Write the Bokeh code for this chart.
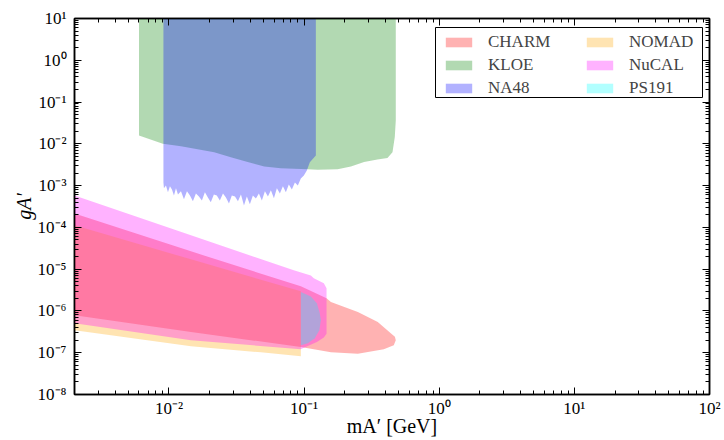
from bokeh.plotting import figure
from bokeh.models import (LogAxis, FixedTicker, CustomJSTickFormatter, Legend,
                          LegendItem, Range1d, BoxAnnotation)
from bokeh.embed import file_html
from bokeh.resources import INLINE

# ---------------- data (mass in GeV, coupling g_A') ----------------
charm_m = [2e-3, 1.455e-2, 9.46e-2, 0.1466, 0.158, 0.25, 0.351, 0.438, 0.47, 0.477,
           0.461, 0.389, 0.25, 0.158, 9.46e-2, 1.455e-2, 2e-3]
charm_g = [2.16e-4, 2.67e-5, 3.88e-6, 2.0e-6, 1.63e-6, 9.4e-7, 5.42e-7, 2.91e-7, 2.4e-7, 1.98e-7,
           1.5e-7, 1.21e-7, 9.5e-8, 1.02e-7, 1.37e-7, 3.13e-7, 7.85e-7]

kloe_m = [6.0e-3, 6.0e-3, 9.0e-3, 1.227e-2, 2.16e-2, 2.87e-2, 3.82e-2, 5.07e-2, 6.7e-2, 0.106,
          0.126, 0.177, 0.222, 0.278, 0.349, 0.414, 0.451, 0.469, 0.477, 0.477]
kloe_g = [20, 1.59e-2, 1.0e-2, 8.7e-3, 6.3e-3, 4.8e-3, 3.65e-3, 2.88e-3, 2.6e-3, 2.48e-3,
          2.4e-3, 2.48e-3, 2.88e-3, 3.65e-3, 4.24e-3, 4.55e-3, 6.3e-3, 1.45e-2, 3.63e-2, 20]

na48_m = [9.1e-3, 9.1e-3, 9.18e-3, 9.5e-3, 9.83e-3, 1.017e-2, 1.052e-2, 1.089e-2, 1.127e-2,
          1.166e-2, 1.227e-2, 1.291e-2, 1.359e-2, 1.43e-2, 1.504e-2, 1.583e-2, 1.666e-2,
          1.753e-2, 1.845e-2, 1.941e-2, 2.04e-2, 2.15e-2, 2.26e-2, 2.38e-2, 2.51e-2, 2.64e-2,
          2.78e-2, 2.92e-2, 3.08e-2, 3.24e-2, 3.41e-2, 3.59e-2, 3.77e-2, 3.97e-2, 4.18e-2,
          4.40e-2, 4.63e-2, 4.87e-2, 5.13e-2, 5.40e-2, 5.68e-2, 5.98e-2, 6.29e-2, 6.62e-2,
          6.97e-2, 7.33e-2, 7.71e-2, 8.12e-2, 8.55e-2, 8.99e-2, 9.46e-2, 9.96e-2, 0.1048,
          0.1103, 0.1222, 0.1222]
na48_g = [20, 1.19e-3, 8.6e-4, 1.01e-3, 6.9e-4, 9.6e-4, 8.1e-4, 5.8e-4, 8.6e-4,
          6.15e-4, 7.3e-4, 4.7e-4, 7.3e-4, 5.8e-4, 4.2e-4, 6.5e-4, 5.5e-4,
          4.4e-4, 6.9e-4, 5.2e-4, 4.0e-4, 6.15e-4, 5.8e-4, 4.4e-4, 6.5e-4, 5.2e-4,
          3.75e-4, 5.8e-4, 5.5e-4, 4.2e-4, 6.15e-4, 3.36e-4, 5.5e-4, 3.6e-4, 5.8e-4,
          4.9e-4, 6.5e-4, 4.4e-4, 7.3e-4, 5.5e-4, 7.7e-4, 5.0e-4, 8.6e-4, 6.5e-4,
          9.6e-4, 6.9e-4, 1.07e-3, 8.1e-4, 1.19e-3, 1.01e-3, 1.49e-3, 1.75e-3, 2.31e-3,
          3.6e-3, 5.27e-3, 20]

nomad_m = [2e-3, 1.455e-2, 9.46e-2, 9.46e-2, 4.79e-2, 1.455e-2, 2e-3]
nomad_g = [1.12e-4, 1.72e-5, 2.95e-6, 8.2e-8, 1.02e-7, 1.42e-7, 3.43e-7]

nucal_m = [2e-3, 1.455e-2, 8.39e-2, 0.1122, 0.118, 0.14, 0.1466, 0.1466, 0.14, 0.1243,
           0.0996, 9.46e-2, 1.455e-2, 2e-3]
nucal_g = [5.83e-4, 6.44e-5, 9.4e-6, 7.1e-6, 6.03e-6, 4.57e-6, 3.47e-6, 2.86e-7, 2.3e-7, 1.8e-7,
           1.32e-7, 1.21e-7, 1.98e-7, 5.05e-7]

ps191_m = [9.46e-2, 0.1122, 0.1243, 0.1306, 0.133, 0.1297, 0.120, 0.1066, 9.46e-2]
ps191_g = [2.83e-6, 2.23e-6, 1.52e-6, 8.8e-7, 5.96e-7, 3.43e-7, 2.21e-7, 1.68e-7, 1.5e-7]

names = ["CHARM", "KLOE", "NA48", "NOMAD", "NuCAL", "PS191"]
colors = ["red", "green", "blue", "orange", "magenta", "cyan"]

x_ticks = [1e-2, 1e-1, 1e0, 1e1, 1e2]
y_ticks = [1e-8, 1e-7, 1e-6, 1e-5, 1e-4, 1e-3, 1e-2, 1e-1, 1e0, 1e1]
x_title = "mA\u2032 [GeV]"
y_title = "gA\u2032"

SERIF = "Liberation Serif"

p = figure(width=724, height=440, x_axis_type="log", y_axis_type="log",
           x_range=Range1d(2e-3, 100), y_range=Range1d(1e-8, 10),
           output_backend="svg", toolbar_location=None,
           min_border_left=74, min_border_right=15, min_border_top=18, min_border_bottom=46)
p.background_fill_color = "white"
p.border_fill_color = "white"
p.outline_line_color = "black"
p.outline_line_width = 1.5
p.xgrid.visible = False
p.ygrid.visible = False

series = [(charm_m, charm_g), (kloe_m, kloe_g), (na48_m, na48_g),
          (nomad_m, nomad_g), (nucal_m, nucal_g), (ps191_m, ps191_g)]
items = []
for name, col, (mx, gy) in zip(names, colors, series):
    r = p.patch(mx, gy, fill_color=col, fill_alpha=0.3, line_color=None)
    items.append(LegendItem(label=name, renderers=[r]))

fmt = CustomJSTickFormatter(code="""
const sup = {"-":"\u207b","0":"\u2070","1":"\u00b9","2":"\u00b2","3":"\u00b3","4":"\u2074",
             "5":"\u2075","6":"\u2076","7":"\u2077","8":"\u2078","9":"\u2079"};
const e = Math.round(Math.log10(tick));
return "10" + String(e).split("").map(c => sup[c]).join("");
""")
blank = CustomJSTickFormatter(code="return ' ';")

def minors(lo, hi):
    out = []
    for n in range(lo, hi):
        for k in range(2, 10):
            out.append(k * 10.0 ** n)
    return out

def style(ax, labels=True):
    ax.axis_line_color = "black"
    ax.axis_line_width = 1.5
    ax.major_tick_line_color = "black"
    ax.minor_tick_line_color = "black"
    ax.major_tick_line_width = 1
    ax.minor_tick_line_width = 1
    ax.major_tick_in = 7
    ax.major_tick_out = 0
    ax.minor_tick_in = 4
    ax.minor_tick_out = 0
    if labels:
        ax.major_label_text_font = SERIF
        ax.major_label_text_font_size = "17px"
        ax.major_label_text_color = "black"
        ax.axis_label_text_font = SERIF
        ax.axis_label_text_font_size = "20px"
        ax.axis_label_text_color = "black"
        ax.axis_label_standoff = 0
    else:
        ax.formatter = blank
        ax.major_label_text_font_size = "2px"
        ax.major_label_standoff = 0

p.xaxis.ticker = FixedTicker(ticks=x_ticks, minor_ticks=minors(-3, 2))
p.yaxis.ticker = FixedTicker(ticks=y_ticks, minor_ticks=minors(-8, 1))
p.xaxis.formatter = fmt
p.yaxis.formatter = fmt
style(p.xaxis[0])
style(p.yaxis[0])
p.xaxis.major_label_standoff = 4
p.xaxis.axis_label_standoff = -6
p.yaxis.major_label_standoff = 8
p.xaxis.axis_label = x_title
p.yaxis.axis_label = y_title
p.yaxis.axis_label_text_font_style = "italic"
p.xaxis.axis_label_text_font_style = "normal"

top_ax = LogAxis(ticker=FixedTicker(ticks=x_ticks, minor_ticks=minors(-3, 2)))
right_ax = LogAxis(ticker=FixedTicker(ticks=y_ticks, minor_ticks=minors(-8, 1)))
style(top_ax, labels=False)
style(right_ax, labels=False)
p.add_layout(top_ax, "above")
p.add_layout(right_ax, "right")

# legend: framed box holding two columns
p.add_layout(BoxAnnotation(left=361, right=628, bottom=297, top=367,
                           left_units="screen", right_units="screen",
                           bottom_units="screen", top_units="screen",
                           fill_color="white", fill_alpha=1.0,
                           line_color="black", line_width=1, line_alpha=1.0))

def make_legend(its, x, y):
    return Legend(items=its, location=(x, y), orientation="vertical",
                  label_text_font=SERIF, label_text_font_size="17px",
                  glyph_width=33, glyph_height=12, label_standoff=13,
                  label_height=20, spacing=3, padding=0, margin=0,
                  border_line_color=None, background_fill_alpha=0.0)

p.add_layout(make_legend(items[:3], 368, 296))
p.add_layout(make_legend(items[3:], 509, 296))

open("out.html", "w").write(file_html(p, INLINE))
